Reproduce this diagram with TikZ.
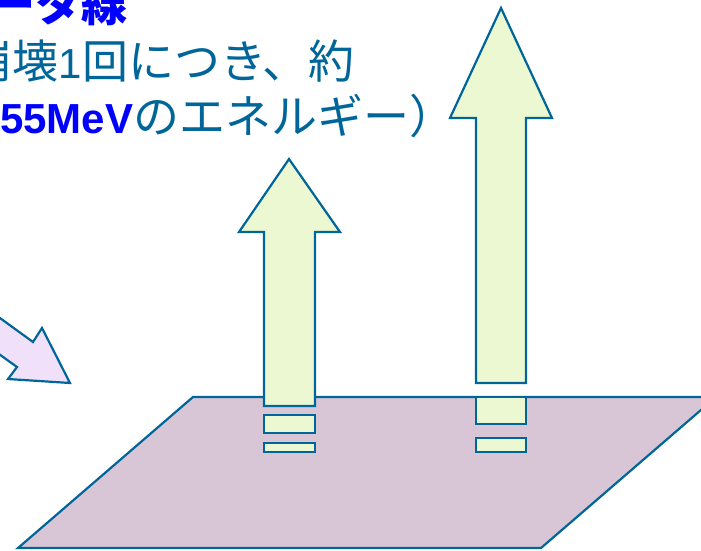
\documentclass[tikz,border=0pt]{standalone}
\usepackage{fontspec}
\newfontfamily\jp{Noto Sans CJK JP}
\newfontfamily\lat{Liberation Sans}
\definecolor{edgec}{RGB}{0,102,153}
\definecolor{greenf}{RGB}{236,248,210}
\definecolor{planef}{RGB}{216,198,214}
\definecolor{purpf}{RGB}{240,224,250}
\definecolor{txtb}{RGB}{0,0,255}
\definecolor{txtt}{RGB}{0,102,153}
\tikzset{
  outl/.style={draw=edgec, line width=2.2pt, line join=miter},
  gbox/.style={outl, fill=greenf},
  txt/.style={inner sep=0pt, font=\fontsize{46}{54}\selectfont}
}
\newcommand{\latin}[1]{{\fontsize{42}{50}\selectfont\lat #1}}
\begin{document}
\begin{tikzpicture}[x=1pt,y=-1pt]
\useasboundingbox (0,0) rectangle (701,550);
\clip (0,0) rectangle (701,550);
% plane
\path[outl, fill=planef] (193,397) -- (716,397) -- (541,548) -- (18,548) -- cycle;
% purple arrow
\path[outl, fill=purpf] (-40,289) -- (33,342) -- (42,328) -- (70,383) -- (8,379) -- (17,367) -- (-40,326) -- cycle;
% small arrow
\path[gbox] (289,159) -- (340,232) -- (315,232) -- (315,406) -- (264,406) -- (264,232) -- (239,232) -- cycle;
\path[gbox] (264,415) rectangle (315,433);
\path[gbox] (264,443) rectangle (315,452);
% tall arrow
\path[gbox] (501,8) -- (552,118) -- (526,118) -- (526,383) -- (476,383) -- (476,118) -- (450,118) -- cycle;
\path[gbox] (476,397) rectangle (526,424);
\path[gbox] (476,438) rectangle (526,452);
% text
\node[txt, anchor=base east, text=txtb] (l1) at (128,21) {\jp\bfseries ータ線};
\node[txt, anchor=base east, text=txtt] (l2) at (355,78) {\jp 崩壊\latin{1}回につき、約};
\node[txt, anchor=base west] (l3) at (0,133) {\textcolor{txtb}{\latin{\bfseries 55MeV}}\textcolor{txtt}{\jp のエネルギー）}};
\end{tikzpicture}
\end{document}
